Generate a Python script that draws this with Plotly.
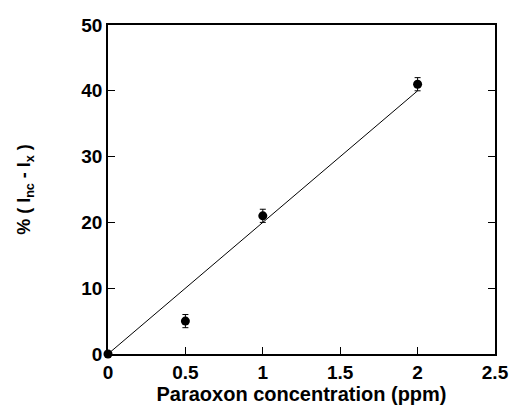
import plotly.graph_objects as go

conc = [0, 0.5, 1, 2]
inhib = [0, 5, 21, 41]
err = [0, 1, 1, 1]
fit_x = [0, 2]
fit_y = [0, 40]

x_ticks = [0, 0.5, 1, 1.5, 2, 2.5]
x_labels = ["0", "0.5", "1", "1.5", "2", "2.5"]
y_ticks = [0, 10, 20, 30, 40, 50]

fnt = "Liberation Sans, Arial, sans-serif"

fig = go.Figure()
fig.add_trace(go.Scatter(x=fit_x, y=fit_y, mode="lines",
                         line=dict(color="black", width=1), showlegend=False))
fig.add_trace(go.Scatter(x=conc, y=inhib, mode="markers",
                         marker=dict(color="black", size=9),
                         error_y=dict(type="data", array=err, color="black", thickness=1, width=3),
                         cliponaxis=False, showlegend=False))
# invisible trace for right-side ticks
fig.add_trace(go.Scatter(x=[0], y=[0], yaxis="y2", mode="markers",
                         marker=dict(opacity=0), showlegend=False, hoverinfo="skip"))

fig.update_layout(
    width=521, height=414,
    margin=dict(l=108, r=14, t=25, b=59),
    paper_bgcolor="white", plot_bgcolor="white",
    font=dict(family=fnt, color="black"),
    xaxis=dict(range=[0, 2.5], tickvals=x_ticks, ticktext=x_labels,
               ticks="inside", ticklen=7, tickwidth=1, tickcolor="black",
               showline=True, linecolor="black", linewidth=1.5, mirror=True,
               showgrid=False, zeroline=False,
               tickfont=dict(size=19, family=fnt, weight="bold"),
               title=dict(text="<b>Paraoxon concentration (ppm)</b>", font=dict(size=20), standoff=5)),
    yaxis=dict(range=[0, 50], tickvals=y_ticks,
               ticks="inside", ticklen=7, tickwidth=1, tickcolor="black",
               showline=True, linecolor="black", linewidth=1.5, mirror=True,
               showgrid=False, zeroline=False,
               tickfont=dict(size=19, family=fnt, weight="bold"),
               title=dict(text="<b>% ( I<sub>nc</sub> - I<sub>x</sub> )</b>", font=dict(size=18), standoff=46)),
    yaxis2=dict(range=[0, 50], tickvals=y_ticks, overlaying="y", side="right",
                ticks="inside", ticklen=7, tickwidth=1, tickcolor="black",
                showticklabels=False, showgrid=False, zeroline=False, showline=False),
)

fig.write_html("out.html")
